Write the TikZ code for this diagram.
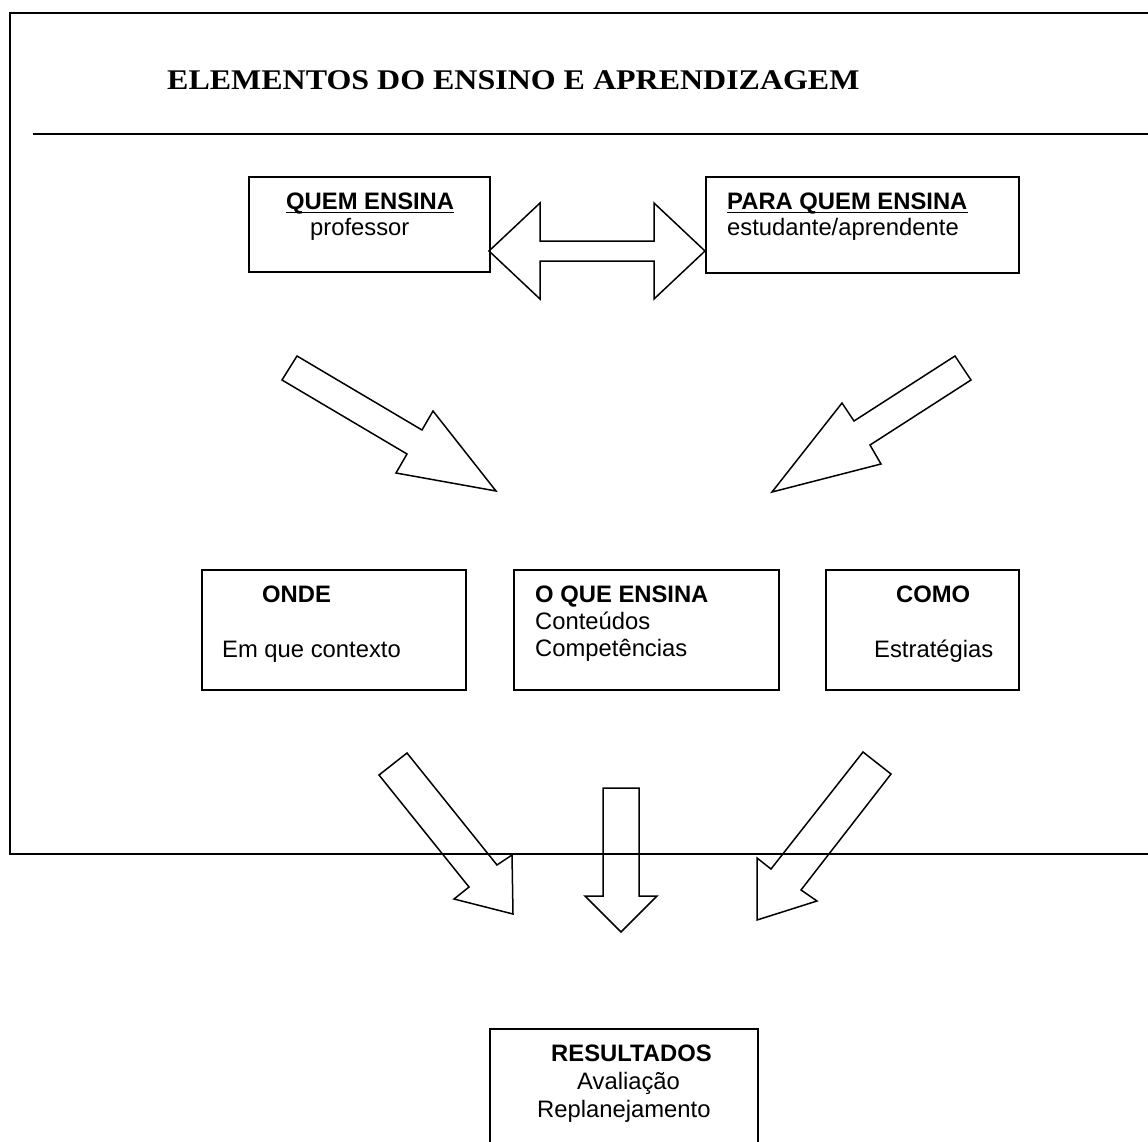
\documentclass[tikz,border=0pt]{standalone}
\usepackage{fontspec}
\usepackage{graphicx}
\setmainfont{Liberation Sans}
\newfontfamily\titlefont{Liberation Serif}
\begin{document}
\begin{tikzpicture}[x=1pt,y=-1pt,
  box/.style={draw,line width=1.6pt,inner sep=0pt,anchor=north west},
  txt/.style={anchor=base west,inner sep=0pt,font=\fontsize{23.8}{28}\selectfont},
  btxt/.style={anchor=base west,inner sep=0pt,font=\fontsize{23.8}{28}\selectfont\bfseries},
  uline/.style={line width=1.6pt},
  blockarrow/.style={draw,line width=1.5pt,line join=miter},
  frameline/.style={line width=1.6pt}]
\useasboundingbox (0,0) rectangle (1148,1142);
\clip (0,0) rectangle (1148,1142);
% outer frame
\draw[frameline] (1160,13) -- (10,13) -- (10,854) -- (1160,854);
\draw[frameline] (33,134) -- (1160,134);
% title
\node[anchor=base west,inner sep=0pt] (title) at (167,90)
  {\titlefont\bfseries\fontsize{28.5}{32}\selectfont\scalebox{1.122}[1]{ELEMENTOS DO ENSINO E APRENDIZAGEM}};
% top boxes
\node[box,minimum width=241,minimum height=95] (quem) at (248,176) {};
\node[box,minimum width=313,minimum height=96] (para) at (705,176) {};
\node[btxt] (quemt) at (286,209) {QUEM ENSINA};
\draw[uline] ([yshift=-3.5pt]quemt.base west) -- ([yshift=-3.5pt]quemt.base east);
\node[txt] (quems) at (310,235) {professor};
\node[btxt] (parat) at (727,209) {PARA QUEM ENSINA};
\draw[uline] ([yshift=-3.5pt]parat.base west) -- ([yshift=-3.5pt]parat.base east);
\node[txt] (paras) at (727,235) {estudante/aprendente};
% double arrow
\draw[blockarrow] (489,251) -- (540,203) -- (540,241) -- (654,241) -- (654,203)
  -- (705,251) -- (654,299) -- (654,261) -- (540,261) -- (540,299) -- cycle;
% diagonal arrows
\draw[blockarrow] (297,356) -- (422,430) -- (433,411) -- (496,491) -- (396,473)
  -- (407,454) -- (282,380) -- cycle;
\draw[blockarrow] (955,356) -- (971,380) -- (870,445) -- (881,464) -- (772,492)
  -- (842,403) -- (854,421) -- cycle;
% middle boxes
\node[box,minimum width=264,minimum height=120] (onde) at (201,569) {};
\node[box,minimum width=265,minimum height=120] (oque) at (513,569) {};
\node[box,minimum width=193,minimum height=120] (como) at (825,569) {};
\node[btxt] (ondet) at (262,602) {ONDE};
\node[txt] (ondes) at (222,657) {Em que contexto};
\node[btxt] (oquet) at (535,602) {O QUE ENSINA};
\node[txt] (oques1) at (535,629) {Conteúdos};
\node[txt] (oques2) at (535,656) {Competências};
\node[btxt] (comot) at (896,602) {COMO};
\node[txt] (comos) at (874,657) {Estratégias};
% bottom arrows
\draw[blockarrow] (407,753) -- (497,865) -- (512,855) -- (513,914) -- (454,899)
  -- (469,887) -- (379,775) -- cycle;
\draw[blockarrow] (603,788) -- (639,788) -- (639,896) -- (657,896) -- (621,932)
  -- (585,896) -- (603,896) -- cycle;
\draw[blockarrow] (863,752) -- (891,774) -- (801,890) -- (817,901) -- (757,920)
  -- (757,858) -- (771,869) -- cycle;
% results box
\node[box,minimum width=268,minimum height=140] (res) at (489,1028) {};
\node[btxt] (rest) at (551,1061) {RESULTADOS};
\node[txt] (ress1) at (577,1089) {Avaliação};
\node[txt] (ress2) at (537,1117) {Replanejamento};
\end{tikzpicture}
\end{document}
